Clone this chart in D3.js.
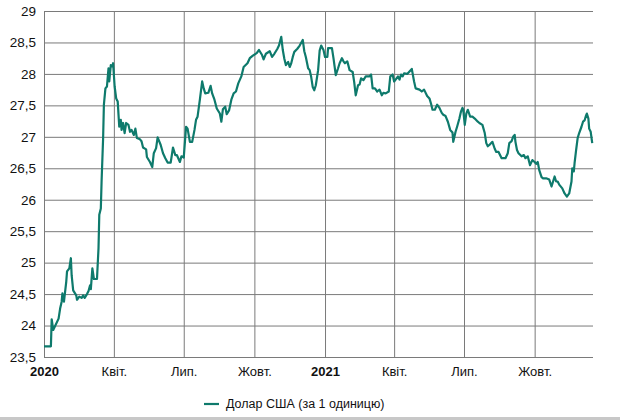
<!DOCTYPE html>
<html>
<head>
<meta charset="utf-8">
<script src="https://cdn.jsdelivr.net/npm/d3@7"></script>
<style>
  html, body { margin: 0; padding: 0; background: #fff; }
  svg { display: block; font-family: "Liberation Sans", Arial, sans-serif; }
</style>
</head>
<body>
<svg id="chart" width="620" height="420"></svg>
<script>
// ---- data ----
const dates = [
  "2020-01-01","2020-01-10","2020-01-11","2020-01-13","2020-01-15","2020-01-20","2020-01-22","2020-01-24","2020-01-25","2020-01-27",
  "2020-01-30","2020-01-31","2020-02-03","2020-02-05","2020-02-06","2020-02-08","2020-02-12","2020-02-13","2020-02-16","2020-02-19",
  "2020-02-21","2020-02-23","2020-02-26","2020-02-28","2020-03-01","2020-03-02","2020-03-04","2020-03-06","2020-03-10","2020-03-12",
  "2020-03-13","2020-03-15","2020-03-16","2020-03-18","2020-03-19","2020-03-21","2020-03-23","2020-03-25","2020-03-26","2020-03-28",
  "2020-03-30","2020-03-31","2020-04-02","2020-04-04","2020-04-06","2020-04-08","2020-04-10","2020-04-11","2020-04-13","2020-04-15",
  "2020-04-17","2020-04-20","2020-04-22","2020-04-24","2020-04-27","2020-04-29","2020-05-01","2020-05-05","2020-05-07","2020-05-09",
  "2020-05-13","2020-05-14","2020-05-18","2020-05-21","2020-05-23","2020-05-26","2020-05-28","2020-06-01","2020-06-04","2020-06-07",
  "2020-06-10","2020-06-14","2020-06-17","2020-06-20","2020-06-22","2020-06-26","2020-06-28","2020-07-01","2020-07-04","2020-07-06",
  "2020-07-09","2020-07-12","2020-07-15","2020-07-17","2020-07-19","2020-07-22","2020-07-25","2020-07-27","2020-07-29","2020-08-02",
  "2020-08-05","2020-08-07","2020-08-10","2020-08-13","2020-08-17","2020-08-19","2020-08-21","2020-08-24","2020-08-26","2020-08-29",
  "2020-09-01","2020-09-04","2020-09-07","2020-09-10","2020-09-14","2020-09-17","2020-09-22","2020-09-25","2020-09-29","2020-10-04",
  "2020-10-07","2020-10-11","2020-10-13","2020-10-16","2020-10-21","2020-10-24","2020-10-27","2020-10-31","2020-11-02","2020-11-05",
  "2020-11-07","2020-11-09","2020-11-11","2020-11-14","2020-11-16","2020-11-18","2020-11-20","2020-11-22","2020-11-26","2020-11-29",
  "2020-12-03","2020-12-05","2020-12-07","2020-12-10","2020-12-12","2020-12-14","2020-12-16","2020-12-18","2020-12-20","2020-12-23",
  "2020-12-25","2020-12-27","2020-12-30","2021-01-01","2021-01-04","2021-01-05","2021-01-10","2021-01-12","2021-01-15","2021-01-18",
  "2021-01-20","2021-01-23","2021-01-25","2021-01-27","2021-01-30","2021-02-02","2021-02-06","2021-02-08","2021-02-10","2021-02-13",
  "2021-02-15","2021-02-17","2021-02-20","2021-02-23","2021-02-28","2021-03-02","2021-03-04","2021-03-07","2021-03-10","2021-03-13",
  "2021-03-16","2021-03-18","2021-03-21","2021-03-25","2021-03-27","2021-03-30","2021-04-01","2021-04-03","2021-04-06","2021-04-08",
  "2021-04-10","2021-04-12","2021-04-14","2021-04-18","2021-04-21","2021-04-24","2021-04-27","2021-04-29","2021-05-04","2021-05-07",
  "2021-05-10","2021-05-14","2021-05-17","2021-05-19","2021-05-21","2021-05-24","2021-05-27","2021-05-30","2021-06-02","2021-06-04",
  "2021-06-07","2021-06-10","2021-06-13","2021-06-16","2021-06-17","2021-06-20","2021-06-22","2021-06-25","2021-06-27","2021-06-29",
  "2021-06-30","2021-07-02","2021-07-04","2021-07-06","2021-07-09","2021-07-12","2021-07-15","2021-07-19","2021-07-21","2021-07-25",
  "2021-07-28","2021-07-30","2021-08-01","2021-08-03","2021-08-07","2021-08-10","2021-08-12","2021-08-15","2021-08-19","2021-08-24",
  "2021-08-27","2021-08-29","2021-09-01","2021-09-03","2021-09-05","2021-09-06","2021-09-08","2021-09-10","2021-09-14","2021-09-17",
  "2021-09-19","2021-09-22","2021-09-25","2021-09-28","2021-10-01","2021-10-03","2021-10-05","2021-10-07","2021-10-10","2021-10-12",
  "2021-10-16","2021-10-20","2021-10-23","2021-10-25","2021-10-27","2021-10-29","2021-10-31","2021-11-02","2021-11-06","2021-11-09",
  "2021-11-12","2021-11-15","2021-11-18","2021-11-19","2021-11-21","2021-11-22","2021-11-24","2021-11-26","2021-11-28","2021-12-01",
  "2021-12-03","2021-12-05","2021-12-07","2021-12-08","2021-12-10","2021-12-11","2021-12-13","2021-12-15"
];
const usdRate = [
  23.67,23.67,24.10,23.93,23.98,24.11,24.27,24.38,24.51,24.38,
  24.70,24.86,24.91,25.07,24.80,24.56,24.48,24.41,24.46,24.44,
  24.48,24.44,24.50,24.55,24.64,24.58,24.91,24.74,24.74,25.23,
  25.76,25.86,26.29,26.98,27.51,27.77,27.80,28.09,27.88,28.14,
  28.12,28.17,27.80,27.61,27.56,27.16,27.27,27.11,27.22,27.06,
  27.22,27.19,27.08,27.11,27.03,27.13,26.98,26.96,26.93,26.83,
  26.80,26.68,26.60,26.52,26.74,26.82,26.99,26.87,26.74,26.66,
  26.59,26.59,26.83,26.71,26.71,26.60,26.69,26.67,27.16,27.13,
  26.92,26.92,27.11,27.27,27.32,27.59,27.88,27.77,27.69,27.70,
  27.81,27.69,27.59,27.45,27.37,27.24,27.44,27.48,27.36,27.42,
  27.59,27.69,27.72,27.85,27.96,28.11,28.17,28.25,28.29,28.33,
  28.38,28.30,28.23,28.32,28.36,28.27,28.32,28.40,28.45,28.59,
  28.38,28.24,28.14,28.19,28.11,28.17,28.27,28.35,28.40,28.45,
  28.54,28.36,28.27,28.09,28.06,27.95,27.79,27.74,27.82,28.06,
  28.37,28.45,28.38,28.27,28.27,28.41,28.41,28.25,27.98,28.09,
  28.17,28.25,28.20,28.17,28.20,28.06,28.03,27.87,27.66,27.82,
  27.83,27.93,27.90,27.96,27.96,27.99,27.77,27.77,27.72,27.75,
  27.66,27.70,27.69,27.72,27.96,27.99,27.88,27.91,27.96,27.91,
  27.99,27.96,28.01,28.00,28.04,28.08,27.88,27.77,27.75,27.72,
  27.75,27.65,27.61,27.53,27.43,27.43,27.51,27.46,27.38,27.35,
  27.33,27.24,27.11,27.07,26.92,27.08,27.16,27.29,27.40,27.46,
  27.43,27.19,27.37,27.43,27.32,27.32,27.29,27.24,27.22,27.19,
  27.06,26.90,26.85,26.87,26.92,26.81,26.76,26.76,26.66,26.66,
  26.74,26.90,26.93,27.00,27.03,26.92,26.79,26.74,26.69,26.71,
  26.66,26.69,26.55,26.63,26.60,26.57,26.60,26.47,26.36,26.34,
  26.34,26.32,26.21,26.29,26.37,26.29,26.29,26.24,26.18,26.10,
  26.05,26.10,26.29,26.50,26.45,26.58,26.79,26.98,27.06,27.16,
  27.24,27.26,27.34,27.37,27.29,27.13,27.08,26.90
];
const yTicks = [23.5, 24, 24.5, 25, 25.5, 26, 26.5, 27, 27.5, 28, 28.5, 29];
const xTickDates = ["2020-01-01","2020-04-01","2020-07-01","2020-10-01","2021-01-01","2021-04-01","2021-07-01","2021-10-01"];
const xTickLabels = ["2020","Квіт.","Лип.","Жовт.","2021","Квіт.","Лип.","Жовт."];
const seriesName = "Долар США (за 1 одиницю)";

// ---- drawing ----
(function () {
const parse = d3.utcParse("%Y-%m-%d");
const data = dates.map((d, i) => ({ date: parse(d), value: usdRate[i] }));

const mLeft = 44, mRight = 593, mTop = 11, mBottom = 357;
const svg = d3.select("#chart");
svg.append("rect").attr("width", 620).attr("height", 420).attr("fill", "#fff");

const x = d3.scaleUtc()
  .domain([parse("2020-01-01"), parse("2021-12-16")])
  .range([mLeft, mRight]);
const y = d3.scaleLinear().domain([23.5, 29]).range([mBottom, mTop]);

const gridColor = "#7a7a7a";
const fmt = v => String(v).replace(".", ",");
const fontFam = "'Liberation Sans', Arial, sans-serif";

// horizontal gridlines + y labels
const yAxis = d3.axisLeft(y).tickValues(yTicks).tickFormat(fmt)
  .tickSize(-(mRight - mLeft)).tickPadding(8);
const gy = svg.append("g").attr("transform", `translate(${mLeft},0)`).call(yAxis);
gy.select(".domain").remove();
gy.selectAll(".tick line").attr("stroke", gridColor).attr("stroke-width", 1);
gy.selectAll(".tick text")
  .attr("fill", "#111").attr("font-size", 13.5).attr("font-family", fontFam);

// vertical gridlines + x labels
const xTicks = xTickDates.map(parse);
const xAxis = d3.axisBottom(x).tickValues(xTicks)
  .tickFormat((d, i) => xTickLabels[i])
  .tickSize(-(mBottom - mTop)).tickPadding(10);
const gx = svg.append("g").attr("transform", `translate(0,${mBottom})`).call(xAxis);
gx.select(".domain").remove();
gx.selectAll(".tick line").attr("stroke", gridColor).attr("stroke-width", 1);
gx.selectAll(".tick text")
  .attr("fill", "#111").attr("font-size", 13).attr("font-family", fontFam)
  .attr("font-weight", (d, i) => /^\d{4}$/.test(xTickLabels[i]) ? "bold" : "normal");

// line
const line = d3.line()
  .x(d => x(d.date))
  .y(d => y(d.value))
  .curve(d3.curveLinear);
svg.append("path")
  .datum(data)
  .attr("fill", "none")
  .attr("stroke", "#0e7a6c")
  .attr("stroke-width", 2.2)
  .attr("stroke-linejoin", "round")
  .attr("d", line);

// legend
const lg = svg.append("g").attr("transform", "translate(204,404)");
lg.append("line").attr("x1", 0).attr("x2", 15).attr("y1", 0).attr("y2", 0)
  .attr("stroke", "#0e7a6c").attr("stroke-width", 2.2);
lg.append("text").attr("x", 22).attr("y", 0).attr("dy", "0.35em")
  .attr("font-size", 12.5).attr("fill", "#111").attr("font-family", fontFam)
  .text(seriesName);

// bottom border strip as in the reference
svg.append("rect").attr("x", 0).attr("y", 417).attr("width", 620).attr("height", 3).attr("fill", "#c8c8c8");
})();
</script>
</body>
</html>
